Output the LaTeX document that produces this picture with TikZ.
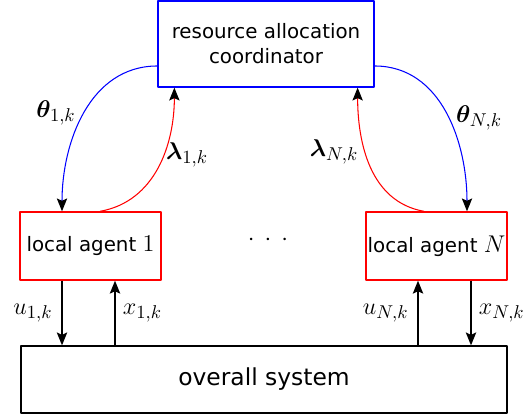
\RequirePackage{fix-cm}
\documentclass[tikz,border=0pt]{standalone}
\usepackage{fontspec}
\usepackage{bm}
\newfontfamily\boxfont{DejaVu Sans}
\DeclareMathSizes{15}{15}{11.5}{8.5}
\usetikzlibrary{calc,arrows.meta}

\tikzset{
  coordbox/.style={draw=blue, line width=0.8pt, minimum width=133.9pt, minimum height=53.3pt, align=center, inner sep=0pt},
  agentbox/.style={draw=red, line width=0.8pt, minimum width=87.4pt, minimum height=42.2pt, inner sep=0pt},
  sysbox/.style={draw, line width=0.8pt, minimum width=301.3pt, minimum height=41.5pt, font=\boxfont\fontsize{14.5}{17}\selectfont},
  lab/.style={font=\fontsize{15}{18}\selectfont},
  sig/.style={->, line width=1.2pt},
}

\begin{document}
\begin{tikzpicture}[x=0.62pt, y=0.62pt, font=\boxfont\fontsize{12.3}{15.5}\selectfont, line join=round, >={Stealth[black,length=8pt,width=6.4pt,inset=1.5pt]}, line width=0.65pt]
\useasboundingbox (0,0) rectangle (529,416);
% boxes
\node[coordbox] (coord) at (266,372) {resource allocation\\coordinator};
\node[agentbox] (agent1) at (90.5,170) {local agent {\fontsize{15}{18}\selectfont$1$}};
\node[agentbox] (agentN) at (436.5,170) {local agent {\fontsize{15}{18}\selectfont$N$}};
\node[sysbox] (system) at (264,36.5) {overall system};
\node[lab] (dots) at (268,176) {$\cdot$\hspace{6.2pt}$\cdot$\hspace{6.2pt}$\cdot$};
% coordinator <-> agents
\draw[blue,->] ($(coord.west)+(0,-22)$) to[out=180,in=90] ($(agent1.north)+(-28.5,0)$);
\draw[red,->] ($(agent1.north)+(9.5,0)$) to[out=10,in=-90] ($(coord.south west)+(17,0)$);
\draw[red,->] ($(agentN.north)+(-12.5,0)$) to[out=170,in=-90] ($(coord.south east)+(-17,0)$);
\draw[blue,->] ($(coord.east)+(0,-22)$) to[out=0,in=90] ($(agentN.north)+(30.5,0)$);
\node[lab] (th1) at (56,303) {$\bm{\theta}_{1,k}$};
\node[lab] (la1) at (187,261) {$\bm{\lambda}_{1,k}$};
\node[lab] (laN) at (334,264) {$\bm{\lambda}_{N,k}$};
\node[lab] (thN) at (479,298) {$\bm{\theta}_{N,k}$};
% agents <-> system
\coordinate (u1) at ($(agent1.south)+(-28.5,0)$);
\coordinate (x1) at ($(agent1.south)+(24.5,0)$);
\coordinate (uN) at ($(agentN.south)+(-18.5,0)$);
\coordinate (xN) at ($(agentN.south)+(34.5,0)$);
\draw[sig] (u1) -- (u1 |- system.north) node[midway,left=2pt,lab] (u1lab) {$u_{1,k}$};
\draw[sig] (x1 |- system.north) -- (x1) node[midway,right=1pt,lab] (x1lab) {$x_{1,k}$};
\draw[sig] (uN |- system.north) -- (uN) node[midway,left=2pt,lab] (uNlab) {$u_{N,k}$};
\draw[sig] (xN) -- (xN |- system.north) node[midway,right=1pt,lab] (xNlab) {$x_{N,k}$};
\end{tikzpicture}
\end{document}
